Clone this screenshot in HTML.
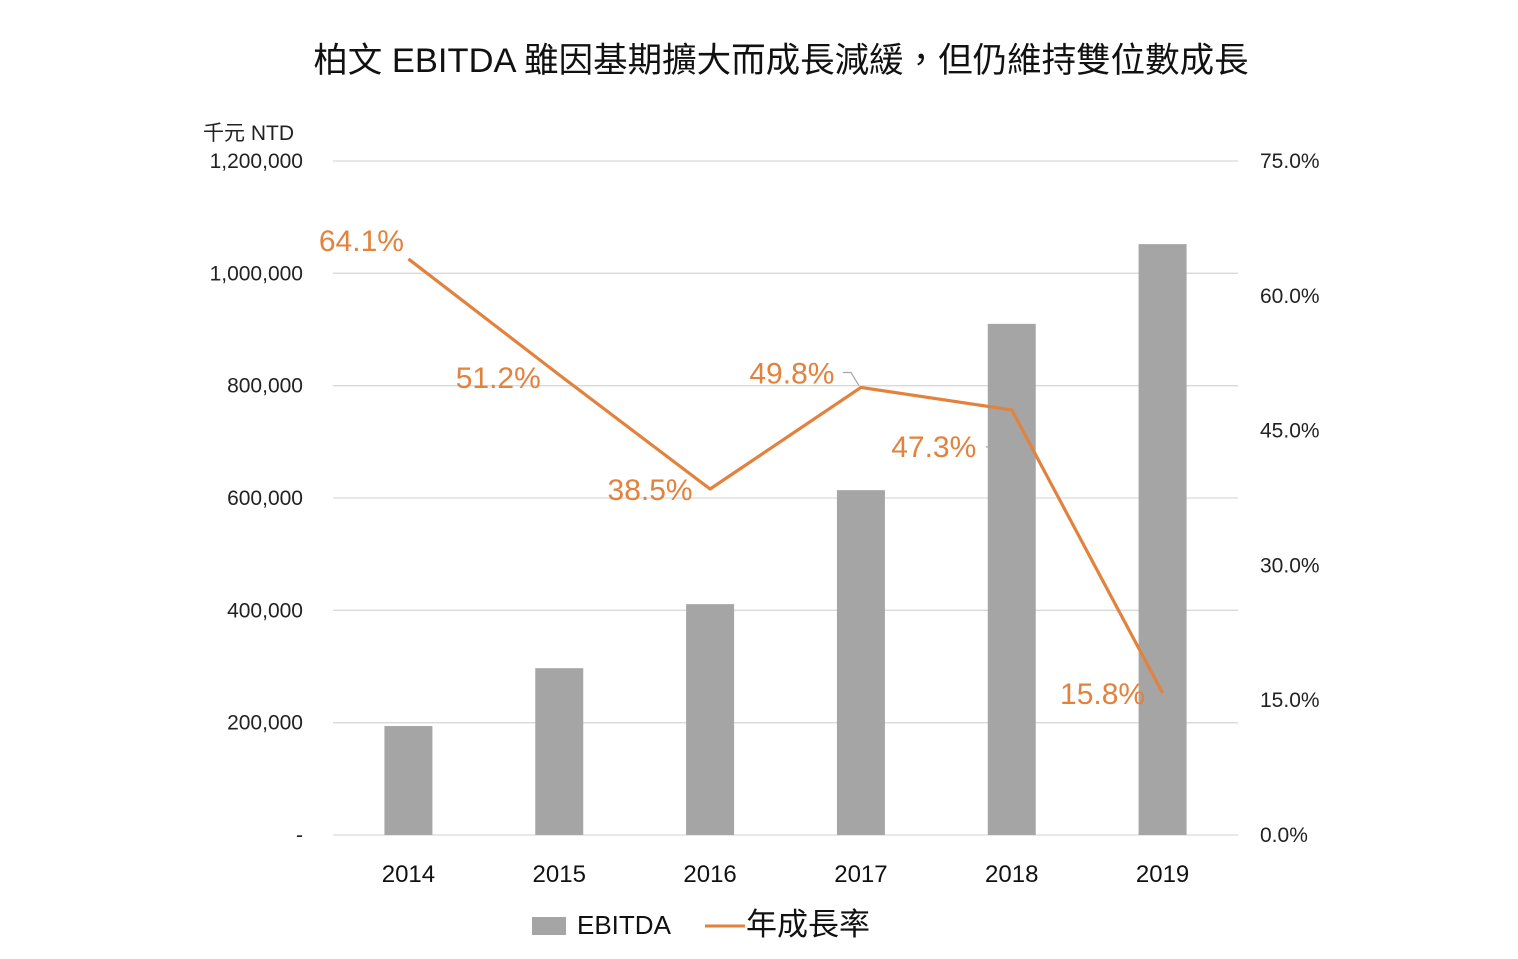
<!DOCTYPE html>
<html><head><meta charset="utf-8"><style>
body{margin:0;background:#fff;}
svg text{font-family:"Liberation Sans","Noto Sans CJK TC",sans-serif;}
</style></head><body>
<svg id="chart" width="1518" height="954" viewBox="0 0 1518 954" xmlns="http://www.w3.org/2000/svg">
<text x="781" y="72" text-anchor="middle" font-size="34.5" fill="#111">柏文 EBITDA 雖因基期擴大而成長減緩，但仍維持雙位數成長</text>
<text x="203" y="140" font-size="21" fill="#222">千元 NTD</text>
<g id="grid"></g><g id="bars"></g><g id="line"></g><g id="labels"></g><g id="axes"></g>
<g>
<rect x="532" y="917" width="34" height="18" fill="#A5A5A5"/>
<text x="577" y="934" font-size="26" fill="#111">EBITDA</text>
<line x1="705" y1="926" x2="745" y2="926" stroke="#E2823D" stroke-width="3"/>
<text x="746" y="935" font-size="31" fill="#111">年成長率</text>
</g>
</svg>
<script>
const categories=["2014","2015","2016","2017","2018","2019"];
const ebitda=[194000,297000,411000,614000,910000,1052000];
const growth=[64.1,51.2,38.5,49.8,47.3,15.8];
const leftTicks=[0,200000,400000,600000,800000,1000000,1200000];
const rightTicks=[0,15,30,45,60,75];
const NS="http://www.w3.org/2000/svg";
const x0=333,x1=1238,yb=835,yt=161;
const bw=(x1-x0)/categories.length;
const xc=i=>x0+bw*(i+0.5);
const yL=v=>yb-(v/1200000)*(yb-yt);
const yR=v=>yb-(v/75)*(yb-yt);
function mk(t,a,p){const e=document.createElementNS(NS,t);for(const k in a)e.setAttribute(k,a[k]);p.appendChild(e);return e;}
const grid=document.getElementById('grid'),axes=document.getElementById('axes');
leftTicks.forEach((v,i)=>{
 const g=mk('line',{x1:x0,x2:x1,y1:yL(v),y2:yL(v),stroke:'#D9D9D9','stroke-width':1.3},grid);
 
 
 const t=mk('text',{x:303,y:yL(v)+7,'text-anchor':'end','font-size':21,fill:'#222'},axes);
 t.textContent=v===0?'-':v.toLocaleString('en-US');
 
 
});
rightTicks.forEach(v=>{
 const t=mk('text',{x:1260,y:yR(v)+7,'font-size':21,fill:'#222'},axes);
 t.textContent=v.toFixed(1)+'%';
 
 
});
const bars=document.getElementById('bars');
categories.forEach((c,i)=>{
 const r=mk('rect',{x:xc(i)-24,y:yL(ebitda[i]),width:48,height:yb-yL(ebitda[i]),fill:'#A5A5A5'},bars);
 
 
 const t=mk('text',{x:xc(i),y:882,'text-anchor':'middle','font-size':24,fill:'#111'},axes);
 t.textContent=c;
 
 
});
const pl=mk('polyline',{points:growth.map((v,i)=>xc(i)+','+yR(v)).join(' '),fill:'none',stroke:'#E2823D','stroke-width':3.2,'stroke-linejoin':'round'},document.getElementById('line'));


const offs=[[-47,-8],[-61,13],[-60,11],[-69,-4],[-78,47],[-60,11]];
const lab=document.getElementById('labels');
growth.forEach((v,i)=>{
 const t=mk('text',{x:xc(i)+offs[i][0],y:yR(v)+offs[i][1],'text-anchor':'middle','font-size':30,fill:'#E2823D'},lab);
 t.textContent=v.toFixed(1)+'%';
 
 
});
const l1=mk('polyline',{points:(xc(3)-18)+','+(yR(growth[3])-15)+' '+(xc(3)-10)+','+(yR(growth[3])-15)+' '+(xc(3)-2)+','+(yR(growth[3])-2),fill:'none',stroke:'#A5A5A5','stroke-width':1.2},lab);


const l2=mk('line',{x1:xc(4)-26,y1:yR(growth[4])+37,x2:xc(4)-22,y2:yR(growth[4])+37,stroke:'#A5A5A5','stroke-width':1.2},lab);


</script>
</body></html>
